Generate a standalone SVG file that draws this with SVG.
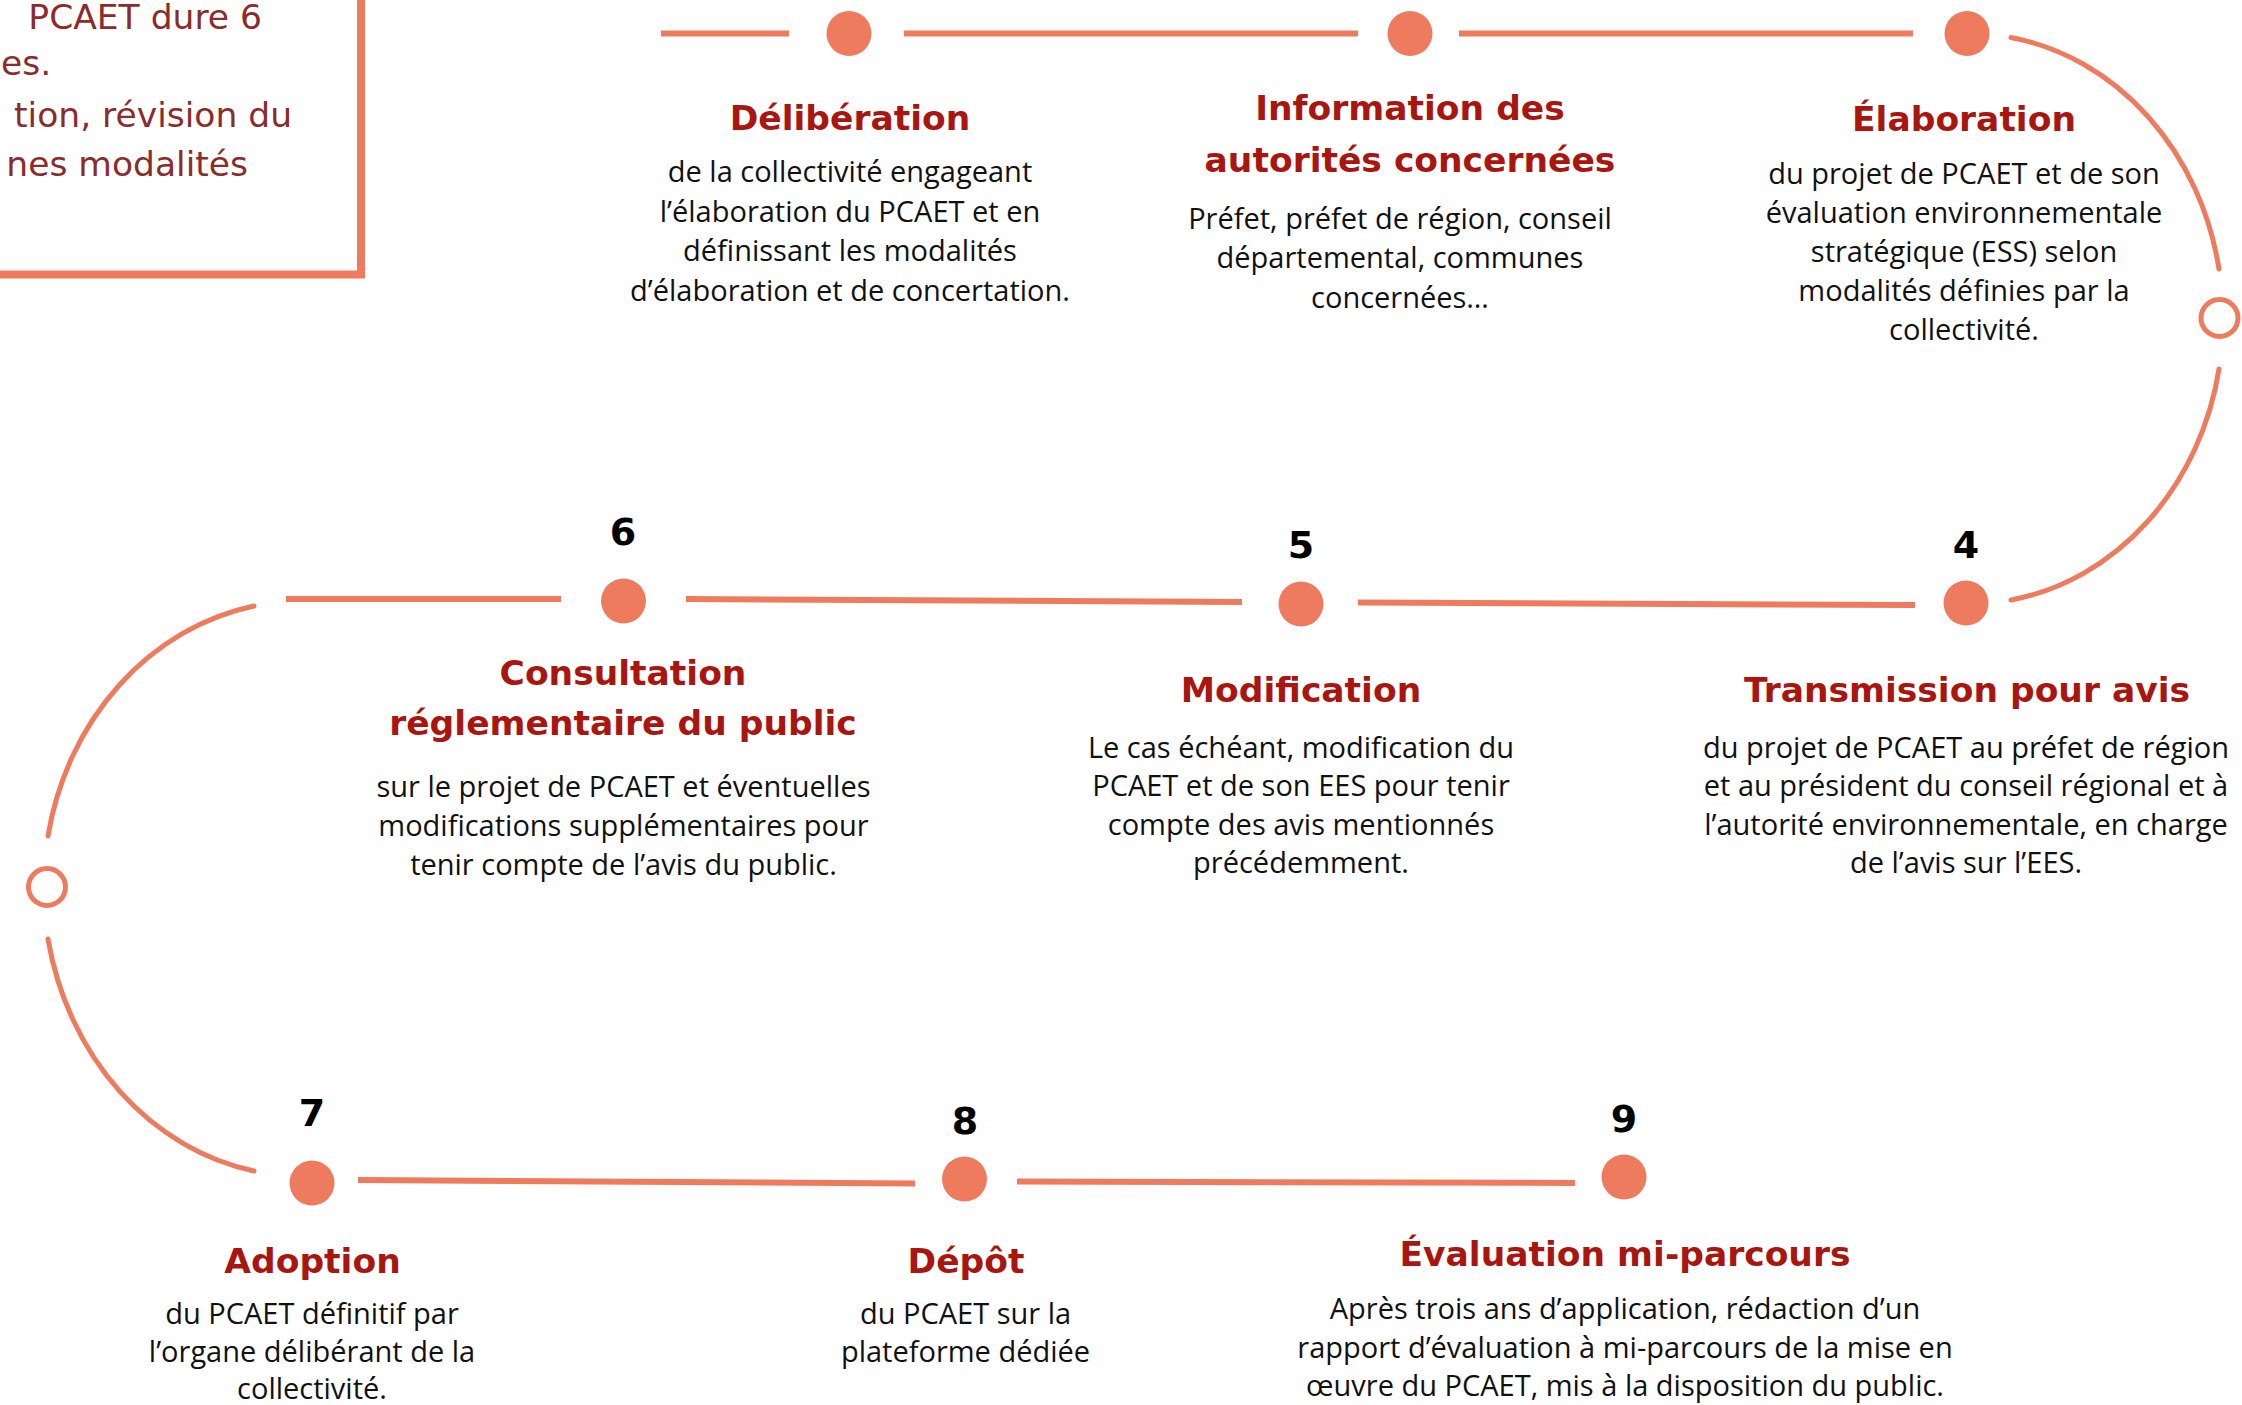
<svg xmlns="http://www.w3.org/2000/svg" width="2242" height="1405" viewBox="0 0 2242 1405">
<style>
.ln{stroke:#EE7B5E;stroke-width:6;fill:none}
.arc{stroke:#EE7B5E;stroke-width:5;fill:none;stroke-linecap:round}
.dot{fill:#EE7B5E}
.ring{fill:#fff;stroke:#EE7B5E;stroke-width:5}
.t{font-family:"DejaVu Sans",sans-serif;font-weight:bold;font-size:34.5px;fill:#A8160F;text-anchor:middle}
.b{font-family:"Open Sans",sans-serif;font-size:29px;fill:#111;text-anchor:middle}
.n{font-family:"DejaVu Sans",sans-serif;font-weight:bold;font-size:38px;fill:#000;text-anchor:middle}
.bx{font-family:"DejaVu Sans",sans-serif;font-size:34.5px;fill:#8B2B2B;text-anchor:end}
</style>
<rect width="2242" height="1405" fill="#fff"/>
<g id="intro-box">
<rect x="-20" y="-20" width="381" height="294.5" fill="#fff" stroke="#EE7B5E" stroke-width="8"/>
<text class="bx" x="262" y="28.5">PCAET dure 6</text>
<text class="bx" x="1" y="75" style="text-anchor:start">es.</text>
<text class="bx" x="292" y="126.5">tion, révision du</text>
<text class="bx" x="248" y="175.5">nes modalités</text>
</g>
<g id="connectors">
<line class="ln" x1="661" y1="33.5" x2="789" y2="33.5"/>
<line class="ln" x1="904" y1="33.5" x2="1358" y2="33.5"/>
<line class="ln" x1="1459" y1="33.5" x2="1913" y2="33.5"/>
<path class="arc" d="M 2011 37.5 A 254 285 0 0 1 2219 269"/>
<circle class="ring" cx="2219.5" cy="318" r="18.5"/>
<path class="arc" d="M 2219 369 A 254 285 0 0 1 2011 600"/>
<line class="ln" x1="1915" y1="605" x2="1358" y2="602.5"/>
<line class="ln" x1="1242" y1="602" x2="686" y2="599"/>
<line class="ln" x1="561" y1="599" x2="286" y2="599"/>
<path class="arc" d="M 254 606 A 258 287 0 0 0 48 836"/>
<circle class="ring" cx="47" cy="887" r="18.5"/>
<path class="arc" d="M 48 939 A 258 292 0 0 0 254 1171"/>
<line class="ln" x1="358" y1="1180" x2="915" y2="1183.5"/>
<line class="ln" x1="1017" y1="1181.5" x2="1575" y2="1183"/>
</g>
<g id="step1">
<circle class="dot" cx="849" cy="33.5" r="22.5"/>
<text class="t" x="850" y="129.5">Délibération</text>
<text class="b" x="850" y="182">de la collectivité engageant</text>
<text class="b" x="850" y="221.5">l’élaboration du PCAET et en</text>
<text class="b" x="850" y="261">définissant les modalités</text>
<text class="b" x="850" y="300.5">d’élaboration et de concertation.</text>
</g>
<g id="step2">
<circle class="dot" cx="1410" cy="33.5" r="22.5"/>
<text class="t" x="1410" y="119.5">Information des</text>
<text class="t" x="1410" y="171.5">autorités concernées</text>
<text class="b" x="1400" y="228.5">Préfet, préfet de région, conseil</text>
<text class="b" x="1400" y="268">départemental, communes</text>
<text class="b" x="1400" y="307.5">concernées…</text>
</g>
<g id="step3">
<circle class="dot" cx="1967" cy="33.5" r="22.5"/>
<text class="t" x="1964" y="130.5">Élaboration</text>
<text class="b" x="1964" y="184">du projet de PCAET et de son</text>
<text class="b" x="1964" y="223">évaluation environnementale</text>
<text class="b" x="1964" y="262">stratégique (ESS) selon</text>
<text class="b" x="1964" y="301">modalités définies par la</text>
<text class="b" x="1964" y="340">collectivité.</text>
</g>
<g id="step4">
<circle class="dot" cx="1966" cy="603" r="22.5"/>
<text class="n" x="1966" y="558">4</text>
<text class="t" x="1967" y="702">Transmission pour avis</text>
<text class="b" x="1966" y="757.5">du projet de PCAET au préfet de région</text>
<text class="b" x="1966" y="796">et au président du conseil régional et à</text>
<text class="b" x="1966" y="834.5">l’autorité environnementale, en charge</text>
<text class="b" x="1966" y="873">de l’avis sur l’EES.</text>
</g>
<g id="step5">
<circle class="dot" cx="1301" cy="604" r="22.5"/>
<text class="n" x="1301" y="558">5</text>
<text class="t" x="1301" y="702">Modification</text>
<text class="b" x="1301" y="757.5">Le cas échéant, modification du</text>
<text class="b" x="1301" y="796">PCAET et de son EES pour tenir</text>
<text class="b" x="1301" y="834.5">compte des avis mentionnés</text>
<text class="b" x="1301" y="873">précédemment.</text>
</g>
<g id="step6">
<circle class="dot" cx="623.5" cy="601" r="22.5"/>
<text class="n" x="623" y="544.5">6</text>
<text class="t" x="623" y="685">Consultation</text>
<text class="t" x="623" y="735">réglementaire du public</text>
<text class="b" x="623.5" y="797">sur le projet de PCAET et éventuelles</text>
<text class="b" x="623.5" y="836">modifications supplémentaires pour</text>
<text class="b" x="623.5" y="874.5">tenir compte de l’avis du public.</text>
</g>
<g id="step7">
<circle class="dot" cx="312" cy="1183" r="22.5"/>
<text class="n" x="312" y="1126">7</text>
<text class="t" x="312.5" y="1273">Adoption</text>
<text class="b" x="312" y="1324">du PCAET définitif par</text>
<text class="b" x="312" y="1362">l’organe délibérant de la</text>
<text class="b" x="312" y="1399">collectivité.</text>
</g>
<g id="step8">
<circle class="dot" cx="964.5" cy="1179" r="22.5"/>
<text class="n" x="965" y="1134">8</text>
<text class="t" x="966" y="1273">Dépôt</text>
<text class="b" x="965.5" y="1324">du PCAET sur la</text>
<text class="b" x="965.5" y="1362">plateforme dédiée</text>
</g>
<g id="step9">
<circle class="dot" cx="1624" cy="1177" r="22.5"/>
<text class="n" x="1624" y="1132">9</text>
<text class="t" x="1625" y="1266">Évaluation mi-parcours</text>
<text class="b" x="1625" y="1319">Après trois ans d’application, rédaction d’un</text>
<text class="b" x="1625" y="1357.5">rapport d’évaluation à mi-parcours de la mise en</text>
<text class="b" x="1625" y="1395.5">œuvre du PCAET, mis à la disposition du public.</text>
</g>
</svg>
